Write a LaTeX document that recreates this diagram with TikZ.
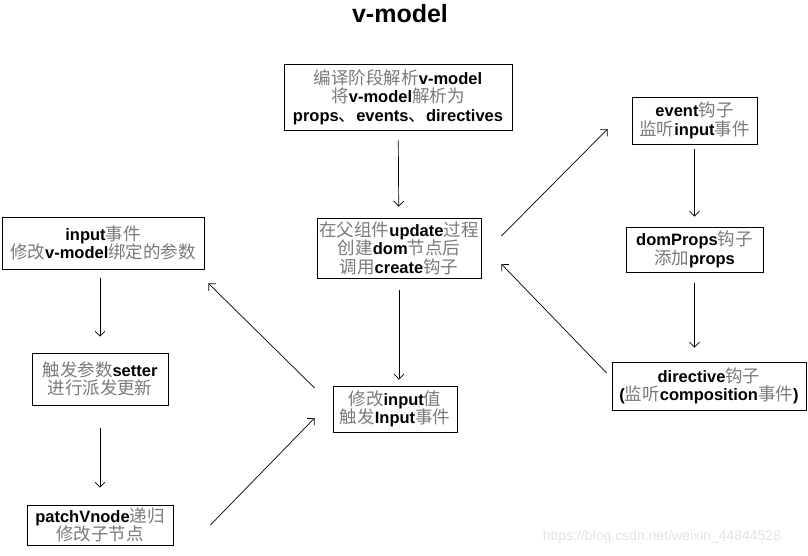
\documentclass[tikz,border=0pt]{standalone}
\usepackage{fontspec}
\setmainfont{Liberation Sans}
\newfontfamily\cjk{Noto Sans CJK SC}[Scale=1.06]
\usetikzlibrary{arrows.meta,calc}

\definecolor{zhgray}{gray}{0.48}
\newcommand{\zh}[1]{{\cjk\mdseries\color{zhgray}#1}}
\newcommand{\dun}{{\cjk\mdseries 、}}

\begin{document}
\begin{tikzpicture}[x=1pt,y=-1pt,
  box/.style={draw,line width=0.8pt,align=center,inner sep=0pt,font=\bfseries\fontsize{16.5}{18.5}\selectfont},
  arr/.style={line width=0.7pt,-{Straight Barb[length=5pt,width=10pt]}}]
\useasboundingbox (0,0) rectangle (808,555);

\node[font=\bfseries\fontsize{25}{30}\selectfont,name=title] at (400,14) {v-model};

\node[box,name=compile,minimum width=228pt,minimum height=66pt] at (398,97) {\zh{编译阶段解析}v-model\\\zh{将}v-model\zh{解析为}\\props\dun events\dun directives};
\node[box,name=update,minimum width=164pt,minimum height=60pt] at (399,248) {\zh{在父组件}update\zh{过程}\\\zh{创建}dom\zh{节点后}\\\zh{调用}create\zh{钩子}};
\node[box,name=change,minimum width=124pt,minimum height=46pt] at (395,409) {\zh{修改}input\zh{值}\\\zh{触发}Input\zh{事件}};

\node[box,name=evt,minimum width=125pt,minimum height=47pt] at (694.5,120.5) {event\zh{钩子}\\\zh{监听}input\zh{事件}};
\node[box,name=domprops,minimum width=137pt,minimum height=45pt] at (694.5,249.5) {domProps\zh{钩子}\\\zh{添加}props};
\node[box,name=directive,minimum width=194pt,minimum height=48pt] at (709,386) {directive\zh{钩子}\\(\zh{监听}composition\zh{事件})};

\node[box,name=inputevt,minimum width=202pt,minimum height=52pt] at (103,243) {input\zh{事件}\\\zh{修改}v-model\zh{绑定的参数}};
\node[box,name=setter,minimum width=136pt,minimum height=52pt] at (100,379) {\zh{触发参数}setter\\\zh{进行派发更新}};
\node[box,name=patch,minimum width=146pt,minimum height=40pt] at (100,525) {patchVnode\zh{递归}\\\zh{修改子节点}};

\node[text=gray!22,font=\fontsize{14}{16}\selectfont,name=mark] at (662,537) {https://blog.csdn.net/weixin\_44844528};

% middle column
\draw[arr,shorten <=10pt,shorten >=11pt] (compile) -- (update);
\draw[arr,shorten <=12pt,shorten >=6pt] (update.south) -- (update.south |- change.north);

\draw[arr] ($(update.east)+(20,-12)$) -- ($(evt.west)+(-24,8.5)$);
\draw[arr,shorten <=5pt,shorten >=10pt] (evt) -- (domprops);
\draw[arr,shorten <=11pt,shorten >=14pt] (domprops.south) -- (domprops.south |- directive.north);
\draw[arr] ($(directive.west)+(-5,-13)$) -- ($(update.east)+(20,16)$);

\draw[arr] ($(change.west)+(-18,-21)$) -- ($(inputevt.south east)+(4,14)$);
\draw[arr,shorten <=9pt,shorten >=16pt] (inputevt.south -| setter.north) -- (setter.north);
\draw[arr,shorten <=23pt,shorten >=17pt] (setter) -- (patch);
\draw[arr] ($(patch.east)+(37,0)$) -- ($(change.west)+(-18,9)$);
\end{tikzpicture}
\end{document}
